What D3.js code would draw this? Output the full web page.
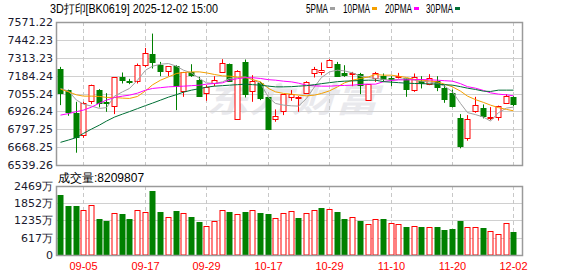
<!DOCTYPE html>
<html>
<head>
<meta charset="utf-8">
<script src="https://cdn.jsdelivr.net/npm/d3@7"></script>
<style>
  body { margin: 0; background: #fff; }
  svg { display: block; }
  text { font-family: "Liberation Sans", Arial, sans-serif; }
</style>
</head>
<body>
<svg id="chart" width="578" height="276"></svg>
<script>
// ---- data ----
const dates = ["09-02","09-03","09-04","09-05","09-08","09-09","09-10","09-11","09-12","09-15",
  "09-16","09-17","09-18","09-19","09-22","09-23","09-24","09-25","09-26","09-29",
  "09-30","10-09","10-10","10-13","10-14","10-15","10-16","10-17","10-20","10-21",
  "10-22","10-23","10-24","10-27","10-28","10-29","10-30","10-31","11-03","11-04",
  "11-05","11-06","11-07","11-10","11-11","11-12","11-13","11-14","11-17","11-18",
  "11-19","11-20","11-21","11-24","11-25","11-26","11-27","11-28","12-01","12-02"];

const open = [7235.6, 7079.4, 6911.6, 6750.4, 6995.2, 7079.4, 6996.6, 6959.2, 7170.8, 7146.4,
  7146.4, 7264.4, 7343.6, 7264.4, 7218.4, 7252.2, 7074.4, 7211.2, 7151.4, 7055.6,
  7127.6, 7216.2, 7271.6, 6875.6, 7283.2, 7074.4, 7132.0, 7026.8, 6870.6, 6930.4,
  7031.2, 7026.8, 7060.0, 7204.0, 7211.2, 7242.8, 7271.6, 7199.6, 7199.6, 7194.6,
  7007.4, 7165.8, 7180.2, 7168.0, 7170.8, 7163.6, 7074.4, 7146.4, 7122.6, 7146.4,
  7091.6, 7055.6, 6875.6, 6731.6, 6923.2, 6947.6, 6877.8, 6890.0, 6988.0, 7026.8];
const high = [7247.2, 7083.0, 6995.2, 6995.2, 7119.0, 7086.6, 7057.8, 7173.0, 7206.8, 7160.8,
  7271.6, 7384.0, 7487.6, 7283.2, 7252.2, 7259.4, 7211.2, 7266.6, 7175.2, 7115.4,
  7180.2, 7302.6, 7271.6, 7223.4, 7300.4, 7187.4, 7139.2, 7031.2, 6940.4, 7050.6,
  7080.0, 7036.2, 7144.2, 7247.2, 7278.8, 7302.6, 7283.2, 7259.4, 7211.2, 7204.0,
  7122.6, 7211.2, 7199.6, 7180.2, 7204.0, 7163.6, 7199.6, 7180.2, 7194.6, 7180.2,
  7115.4, 7084.4, 6906.6, 6899.4, 7031.2, 6976.4, 6957.0, 6967.8, 7050.6, 7036.2];
const low = [6971.4, 6894.4, 6628.0, 6736.0, 6978.6, 6954.8, 6923.2, 6906.6, 7127.6, 7122.6,
  7127.6, 7247.2, 7235.6, 7180.2, 7180.2, 6935.4, 7031.2, 7175.2, 7036.2, 7002.4,
  7108.2, 7211.2, 7139.2, 6875.6, 7026.8, 6995.2, 7007.4, 6798.6, 6851.2, 6899.4,
  7002.4, 6923.2, 7060.0, 7170.8, 7187.4, 7242.8, 7180.2, 7175.2, 7108.2, 7050.6,
  7007.4, 7139.2, 7139.2, 7108.2, 7163.6, 7031.2, 7067.2, 7091.6, 7115.4, 7072.2,
  6988.0, 6954.8, 6659.6, 6714.4, 6916.0, 6875.6, 6863.4, 6859.8, 6988.0, 6964.2];
const close = [7060.0, 6923.2, 6738.8, 6983.6, 7113.2, 6988.0, 6985.8, 7170.8, 7151.4, 7142.0,
  7264.4, 7350.8, 7283.2, 7223.4, 7252.2, 7108.2, 7211.2, 7187.4, 7036.2, 7098.8,
  7151.4, 7278.8, 7151.4, 7218.4, 7055.6, 7146.4, 7026.8, 6798.6, 6894.4, 7050.6,
  7053.0, 7031.2, 7139.2, 7235.6, 7228.4, 7295.4, 7187.4, 7185.0, 7204.0, 7115.4,
  7122.6, 7204.0, 7160.8, 7163.0, 7180.2, 7084.4, 7170.8, 7132.0, 7163.6, 7103.2,
  7012.4, 6964.2, 6676.2, 6868.4, 6969.2, 6887.2, 6888.6, 6967.8, 7039.8, 6978.6];

const ma5 = [7091.6, 7072.2, 7007.4, 6978.6, 6964.2, 6947.6, 6953.4, 7036.2, 7067.2, 7091.6,
  7151.4, 7223.4, 7252.2, 7266.6, 7271.6, 7252.2, 7223.4, 7204.0, 7163.6, 7132.0,
  7127.6, 7139.2, 7163.6, 7170.8, 7175.2, 7156.4, 7127.6, 7026.8, 6983.6, 6971.4,
  6966.4, 6964.2, 7019.6, 7103.2, 7170.8, 7211.2, 7223.4, 7218.4, 7204.0, 7180.2,
  7170.8, 7163.6, 7156.4, 7151.4, 7156.4, 7163.6, 7151.4, 7144.2, 7139.2, 7127.6,
  7108.2, 7067.2, 6983.6, 6917.4, 6903.0, 6885.0, 6856.2, 6917.4, 6949.8, 6957.0];
const ma10 = [7086.6, 7067.2, 7045.6, 7036.2, 7036.2, 7034.0, 7026.8, 7026.8, 7021.8, 7019.6,
  7034.0, 7074.4, 7117.6, 7151.4, 7175.2, 7199.6, 7206.8, 7211.2, 7211.2, 7204.0,
  7192.4, 7182.4, 7180.2, 7175.2, 7170.8, 7156.4, 7139.2, 7091.6, 7067.2, 7055.6,
  7050.6, 7043.4, 7038.4, 7043.4, 7055.6, 7074.4, 7103.2, 7132.0, 7151.4, 7163.6,
  7175.2, 7192.4, 7187.4, 7187.4, 7180.2, 7170.8, 7156.4, 7151.4, 7146.4, 7139.2,
  7122.6, 7103.2, 7072.2, 7036.2, 7011.0, 6990.8, 6971.4, 6953.4, 6940.4, 6930.4];
const ma20 = [6899.4, 6910.2, 6924.6, 6935.4, 6957.0, 6985.8, 7007.4, 7026.8, 7036.2, 7043.4,
  7057.8, 7079.4, 7091.6, 7097.4, 7103.2, 7106.0, 7108.2, 7111.8, 7115.4, 7122.6,
  7127.6, 7132.0, 7151.4, 7162.2, 7169.4, 7169.4, 7163.6, 7155.0, 7151.4, 7144.2,
  7139.2, 7129.8, 7115.4, 7110.4, 7108.2, 7108.2, 7111.8, 7113.2, 7115.4, 7120.4,
  7122.6, 7122.6, 7140.6, 7149.2, 7153.6, 7153.6, 7155.0, 7156.4, 7153.6, 7151.4,
  7147.8, 7144.2, 7126.2, 7104.6, 7093.8, 7077.2, 7060.0, 7050.6, 7045.6, 7038.4];
const ma30 = [6702.8, 6719.4, 6737.4, 6767.6, 6798.6, 6827.4, 6856.2, 6885.0, 6906.6, 6924.6,
  6946.2, 6967.8, 6985.8, 7007.4, 7029.0, 7047.0, 7065.0, 7079.4, 7090.2, 7101.0,
  7108.2, 7111.8, 7115.4, 7119.0, 7122.6, 7119.0, 7115.4, 7108.2, 7103.2, 7103.2,
  7104.6, 7108.2, 7111.8, 7119.0, 7126.2, 7133.4, 7140.6, 7144.2, 7146.4, 7149.2,
  7151.4, 7151.4, 7140.6, 7137.0, 7133.4, 7129.8, 7127.6, 7126.2, 7124.8, 7122.6,
  7119.0, 7115.4, 7104.6, 7093.8, 7084.4, 7072.2, 7070.0, 7079.4, 7079.4, 7079.4];

// volume in 万 (10k)
const volume = [2158, 1764, 1764, 1610, 1789, 1299, 1227, 1503, 1478, 1299,
  1610, 1539, 2301, 1549, 1360, 1585, 1503, 1370, 1191, 1038,
  1217, 1610, 1549, 1467, 1549, 1610, 1514, 1478, 1324, 1503,
  1585, 1335, 1514, 1621, 1692, 1657, 1549, 1299, 1360, 1227,
  1120, 1288, 1299, 1156, 1120, 1013, 1048, 1013, 1013, 1013,
  880, 941, 1227, 1013, 1013, 977, 869, 762, 1156, 820.9807];

const priceTicks = [6539.26, 6668.25, 6797.25, 6926.24, 7055.24, 7184.24, 7313.23, 7442.23, 7571.22];
const volTicks = [0, 617, 1235, 1852, 2469];
const dateTicks = ["09-05","09-17","09-29","10-17","10-29","11-10","11-20","12-02"];

const maSeries = [
  { name: "5PMA", values: ma5, color: "#a0a0a0" },
  { name: "10PMA", values: ma10, color: "#f5a000" },
  { name: "20PMA", values: ma20, color: "#ff00ff" },
  { name: "30PMA", values: ma30, color: "#006f35" }
];

const RED = "#ff0000", GREEN = "#008000";

// ---- layout ----
const main = { left: 56, right: 522, top: 22, bottom: 165 };
const vol = { left: 56, right: 522, top: 186, bottom: 255 };

const svg = d3.select("#chart");

const x = d3.scaleBand().domain(dates).range([56.5, 56.5 + 7.68 * dates.length]);
const cx = (d) => Math.round(x(d) + x.bandwidth() / 2) + 0.5;
const y = d3.scaleLinear().domain([priceTicks[0], priceTicks[priceTicks.length - 1]]).range([main.bottom, main.top]);
const yv = d3.scaleLinear().domain([0, volTicks[volTicks.length - 1]]).range([vol.bottom, vol.top]);

const bars = dates.map((d, i) => ({
  date: d, o: open[i], h: high[i], l: low[i], c: close[i], v: volume[i],
  up: close[i] >= open[i],
  volUp: i === 0 ? close[i] >= open[i] : close[i] >= close[i - 1]
}));

// watermark
svg.append("text")
  .attr("x", 206).attr("y", 112)
  .attr("textLength", 172).attr("lengthAdjust", "spacingAndGlyphs")
  .style("font-family", "'Noto Sans CJK SC', sans-serif")
  .style("font-size", "34px").style("font-weight", "bold").style("font-style", "italic")
  .style("fill", "#e9e9ed")
  .text("东方财富");

// ---- grids ----
const drawPanel = function (box, yScale, ticks) {
  const g = svg.append("g");
  g.selectAll("line.h").data(ticks.slice(1, -1)).join("line")
    .attr("x1", box.left).attr("x2", box.right)
    .attr("y1", (t) => Math.round(yScale(t)) + 0.5).attr("y2", (t) => Math.round(yScale(t)) + 0.5)
    .attr("stroke", "#d0d0d0");
  g.selectAll("line.v").data(dateTicks).join("line")
    .attr("x1", (d) => cx(d)).attr("x2", (d) => cx(d))
    .attr("y1", box.top).attr("y2", box.bottom)
    .attr("stroke", "#c8c8c8").attr("stroke-dasharray", "4,3");
  return g;
};
drawPanel(main, y, priceTicks);
drawPanel(vol, yv, volTicks);

// ---- candles ----
const candles = svg.append("g").selectAll("g").data(bars).join("g");
candles.append("line")
  .attr("x1", (d) => cx(d.date)).attr("x2", (d) => cx(d.date))
  .attr("y1", (d) => y(d.h)).attr("y2", (d) => y(d.l))
  .attr("stroke", (d) => d.up ? RED : GREEN);
candles.append("rect")
  .attr("x", (d) => cx(d.date) - 2.5)
  .attr("width", 5)
  .attr("y", (d) => Math.round(y(Math.max(d.o, d.c))) + 0.5)
  .attr("height", (d) => Math.max(1, Math.round(Math.abs(y(d.o) - y(d.c)))))
  .attr("fill", (d) => d.up ? "#fff" : GREEN)
  .attr("stroke", (d) => d.up ? RED : GREEN);

// ---- moving averages ----
const line = d3.line().x((v, i) => cx(dates[i])).y((v) => y(v));
svg.append("g").selectAll("path").data(maSeries).join("path")
  .attr("d", (s) => line(s.values))
  .attr("fill", "none").attr("stroke", (s) => s.color).attr("stroke-width", 1);

// ---- volume bars ----
svg.append("g").selectAll("rect").data(bars).join("rect")
  .attr("x", (d) => cx(d.date) - 2.5)
  .attr("width", 5)
  .attr("y", (d) => Math.round(yv(d.v)) + 0.5)
  .attr("height", (d) => vol.bottom - Math.round(yv(d.v)) - 0.5)
  .attr("fill", (d) => d.volUp ? "#fff" : GREEN)
  .attr("stroke", (d) => d.volUp ? RED : GREEN);

// ---- frames ----
[main, vol].forEach((b) => {
  svg.append("rect")
    .attr("x", b.left + 0.5).attr("y", b.top + 0.5)
    .attr("width", b.right - b.left).attr("height", b.bottom - b.top)
    .attr("fill", "none").attr("stroke", "#9a9a9a").attr("stroke-width", 1.5);
});

// ---- axis labels ----
const axisFont = (sel) => sel.style("font-family", "'DejaVu Sans', Verdana, sans-serif").style("font-size", "11px").style("fill", "#1a1a2e");
svg.append("g").selectAll("text").data(priceTicks).join("text")
  .attr("x", 53).attr("y", (t) => y(t) + 4)
  .attr("text-anchor", "end")
  .call(axisFont)
  .text((t) => t.toFixed(2));
svg.append("g").selectAll("text").data(volTicks).join("text")
  .attr("x", 53).attr("y", (t) => yv(t) + 4)
  .attr("text-anchor", "end")
  .call(axisFont)
  .text((t) => t === 0 ? "0" : t + "万");

svg.append("g").selectAll("text").data(dateTicks).join("text")
  .attr("x", (d) => cx(d)).attr("y", 270)
  .attr("text-anchor", "middle")
  .style("font-size", "11px").style("fill", RED)
  .text((d) => d);

// ---- header ----
svg.append("text")
  .attr("x", 50).attr("y", 13)
  .attr("textLength", 168).attr("lengthAdjust", "spacingAndGlyphs")
  .style("font-size", "12px").style("fill", "#000")
  .text("3D打印[BK0619] 2025-12-02 15:00");

const legendX = [306, 343, 385, 426];
const legendW = [22, 27, 27, 27];
const legend = svg.append("g").selectAll("g").data(maSeries).join("g");
legend.append("text")
  .attr("x", (s, i) => legendX[i]).attr("y", 13)
  .attr("textLength", (s, i) => legendW[i]).attr("lengthAdjust", "spacingAndGlyphs")
  .style("font-size", "12px").style("fill", "#000")
  .text((s) => s.name);
legend.append("rect")
  .attr("x", (s, i) => legendX[i] + legendW[i] + 2).attr("y", 7)
  .attr("width", 5).attr("height", 3)
  .attr("fill", (s) => s.color);

svg.append("text")
  .attr("x", 58).attr("y", 182)
  .style("font-size", "12px").style("fill", "#000")
  .text("成交量:" + Math.round(volume[volume.length - 1] * 10000));
</script>
</body>
</html>
